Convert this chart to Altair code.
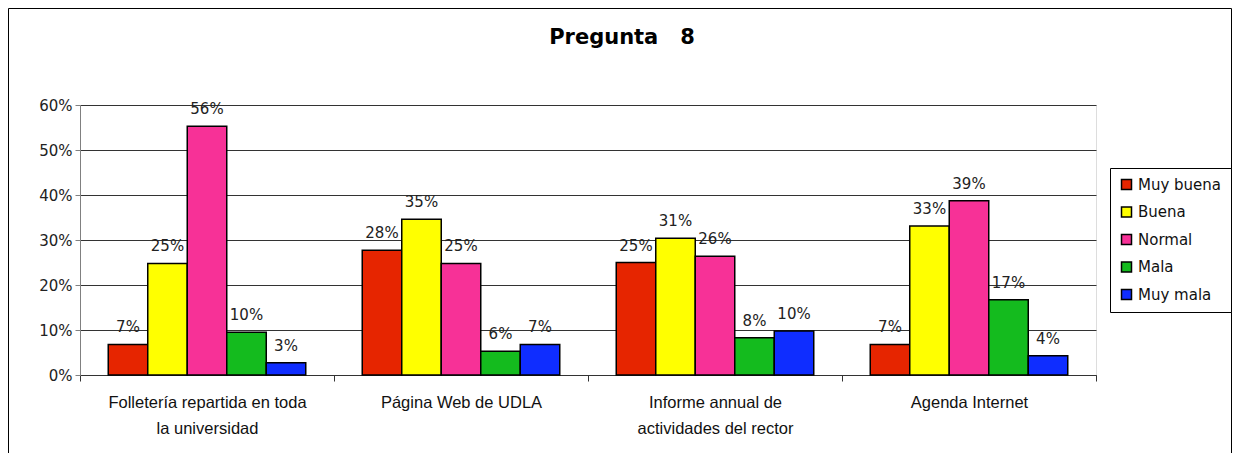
import altair as alt
import pandas as pd

categories = [
    "Folletería repartida en toda|la universidad",
    "Página Web de UDLA",
    "Informe annual de|actividades del rector",
    "Agenda Internet",
]
series = ["Muy buena", "Buena", "Normal", "Mala", "Muy mala"]
colors = ["#E62500", "#FFFF00", "#F73197", "#14BB1E", "#0F2DFF"]

muy_buena = [0.068, 0.277, 0.250, 0.068]
buena = [0.248, 0.346, 0.304, 0.331]
normal = [0.553, 0.248, 0.264, 0.387]
mala = [0.095, 0.053, 0.083, 0.167]
muy_mala = [0.027, 0.068, 0.098, 0.043]

lab_muy_buena = ["7%", "28%", "25%", "7%"]
lab_buena = ["25%", "35%", "31%", "33%"]
lab_normal = ["56%", "25%", "26%", "39%"]
lab_mala = ["10%", "6%", "8%", "17%"]
lab_muy_mala = ["3%", "7%", "10%", "4%"]

vals = [muy_buena, buena, normal, mala, muy_mala]
labs = [lab_muy_buena, lab_buena, lab_normal, lab_mala, lab_muy_mala]
rows = []
for s, v, l in zip(series, vals, labs):
    for c, vv, ll in zip(categories, v, l):
        rows.append({"cat": c, "serie": s, "val": vv, "lab": ll})
df = pd.DataFrame(rows)

W, H = 1016, 270
PL, PT, PR, PB = 72, 97, 136, 78

base = alt.Chart(df).encode(
    x=alt.X(
        "cat:N",
        sort=categories,
        scale=alt.Scale(paddingInner=0, paddingOuter=0),
        axis=alt.Axis(
            title=None,
            labelAngle=0,
            labelExpr="split(datum.label, '|')",
            labelFont="Liberation Sans",
            labelFontSize=16.5,
            labelLineHeight=26,
            labelColor="#111",
            labelPadding=13,
            tickBand="extent",
            tickSize=6,
            tickColor="#333",
            domainColor="#333",
            labelLimit=400,
        ),
    ),
    xOffset=alt.XOffset(
        "serie:N", sort=series, scale=alt.Scale(paddingOuter=0.715, paddingInner=0)
    ),
    y=alt.Y(
        "val:Q",
        scale=alt.Scale(domain=[0, 0.6]),
        axis=alt.Axis(
            title=None,
            values=[0, 0.1, 0.2, 0.3, 0.4, 0.5, 0.6],
            format=".0%",
            labelFont="DejaVu Sans",
            labelFontSize=15,
            labelColor="#222",
            labelPadding=3,
            tickSize=5,
            tickColor="#808080",
            domainColor="#808080",
            gridColor="#333",
            gridWidth=1,
        ),
    ),
)

bars = base.mark_bar(stroke="black", strokeWidth=1.5).encode(
    color=alt.Color(
        "serie:N",
        sort=series,
        scale=alt.Scale(domain=series, range=colors),
        legend=alt.Legend(
            title=None,
            orient="none",
            legendX=1030,
            legendY=63,
            symbolType="square",
            symbolSize=100,
            symbolStrokeColor="black",
            symbolStrokeWidth=1.5,
            labelFont="DejaVu Sans",
            labelFontSize=15,
            labelColor="#111",
            labelOffset=4,
            rowPadding=10.5,
            padding=9,
            strokeColor="black",
            fillColor="white",
        ),
    )
)

text = base.mark_text(
    dy=-12, baseline="alphabetic", font="DejaVu Sans", fontSize=15, color="#222"
).encode(text="lab:N")

border = alt.Chart(pd.DataFrame({"a": [0]})).mark_rect(
    fillOpacity=0, stroke="black", strokeWidth=1
).encode(
    x=alt.value(-PL + 0.5),
    x2=alt.value(W + PR - 0.5),
    y=alt.value(-PT + 0.5),
    y2=alt.value(H + PB + 6),
)

chart = (
    alt.layer(bars, text, border)
    .properties(
        width=W,
        height=H,
        autosize="none",
        padding={"left": PL, "top": PT, "right": PR, "bottom": PB},
        title=alt.TitleParams(
            "Pregunta\u00a0\u00a0\u00a08",
            font="DejaVu Sans",
            fontSize=21,
            fontWeight="bold",
            color="black",
            anchor="middle",
            dx=34,
            offset=-40,
        ),
    )
    .configure_view(fill="#CCCCCC", stroke="#808080")
    .configure(background="white")
)

chart.save("out.html", embed_options={"renderer": "svg", "actions": False})
